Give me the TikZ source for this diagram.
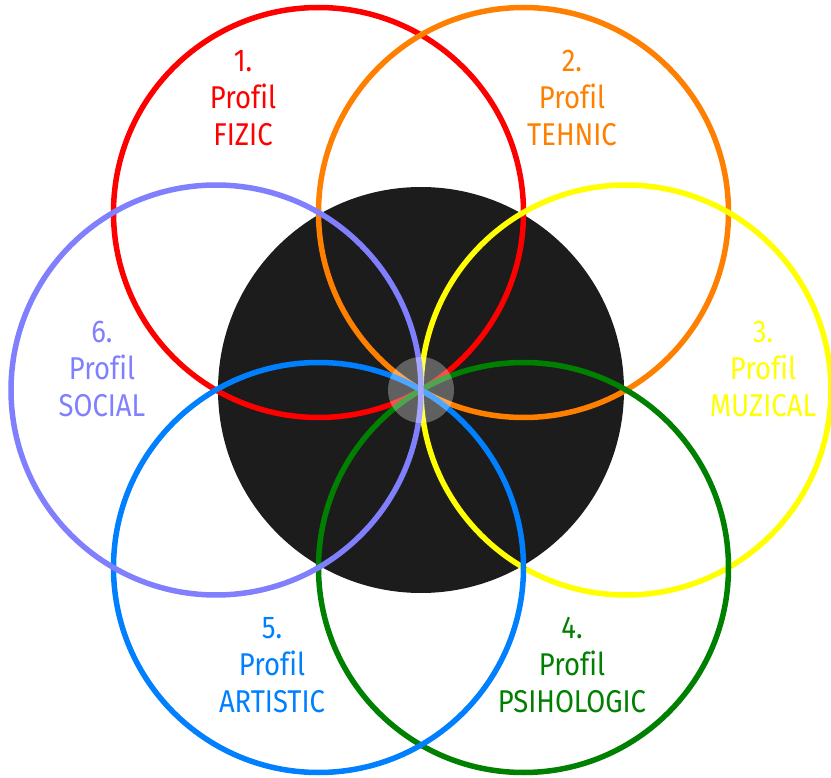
\documentclass[tikz,border=0pt]{standalone}
\usepackage{fontspec}
\setmainfont[FakeStretch=0.87, Ligatures=NoCommon]{Fira Sans}
\usepackage{tikz}

\definecolor{rosu}{RGB}{255,0,0}
\definecolor{portocaliu}{RGB}{255,128,0}
\definecolor{galben}{RGB}{255,255,0}
\definecolor{verde}{RGB}{0,128,0}
\definecolor{albastru}{RGB}{0,128,255}
\definecolor{mov}{RGB}{128,128,255}
\definecolor{fundal}{RGB}{28,28,28}

\begin{document}
\begin{tikzpicture}[x=1pt, y=-1pt,
	inel/.style={line width=5.5pt},
	eticheta/.style={align=center, inner sep=0pt, font=\fontsize{31.5}{37}\selectfont}]
	\useasboundingbox (0,0) rectangle (831,778);

	% Discul din mijloc
		\fill[fundal] (421,390) circle(203);

	% Cele sase cercuri
		\draw[inel, rosu] (318.5,212.5) circle(205);
		\draw[inel, portocaliu] (523.5,212.5) circle(205);
		\draw[inel, galben] (626,390) circle(205);
		\draw[inel, verde] (523.5,567.5) circle(205);
		\draw[inel, albastru] (318.5,567.5) circle(205);
		\draw[inel, mov] (216,390) circle(205);
		\fill[white, opacity=0.3] (421,390) circle(33);

	% Textele
		\node[eticheta, text=rosu] (fizic) at (243,98) {1.\\Profil\\FIZIC};
		\node[eticheta, text=portocaliu] (tehnic) at (572,98) {2.\\Profil\\TEHNIC};
		\node[eticheta, text=galben] (muzical) at (763,369) {3.\\Profil\\MUZICAL};
		\node[eticheta, text=verde] (psihologic) at (572,665) {4.\\Profil\\PSIHOLOGIC};
		\node[eticheta, text=albastru] (artistic) at (272,665) {5.\\Profil\\ARTISTIC};
		\node[eticheta, text=mov] (social) at (102,369) {6.\\Profil\\SOCIAL};
\end{tikzpicture}
\end{document}
